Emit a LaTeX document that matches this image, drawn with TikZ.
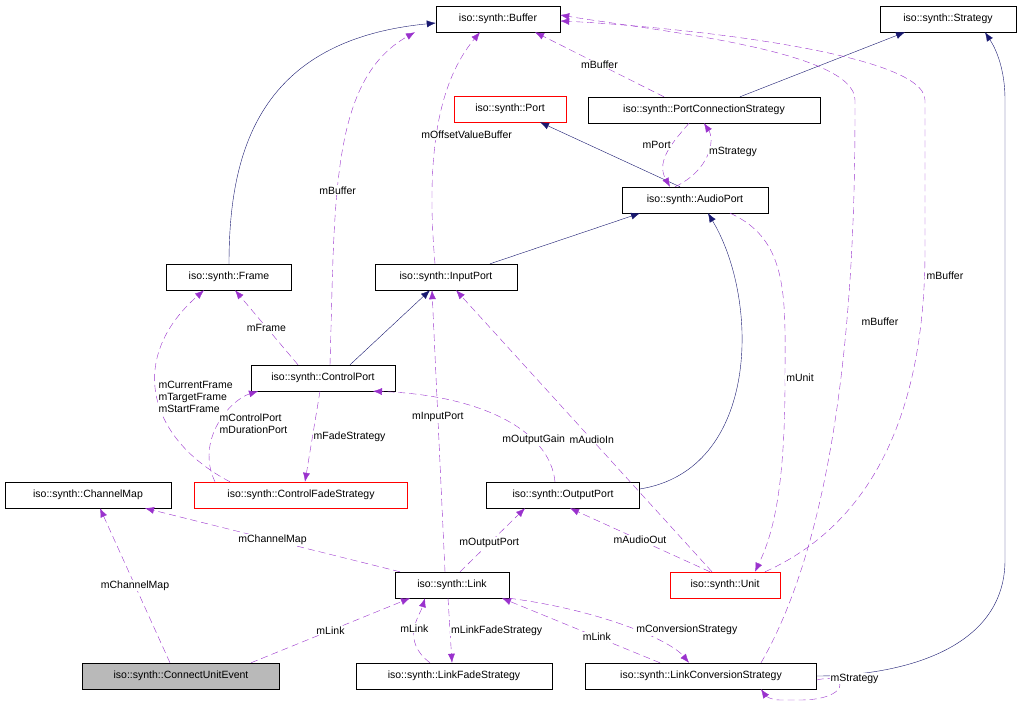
\documentclass[tikz,border=0pt]{standalone}
\usepackage{fontspec}
\setmainfont{Liberation Sans}
\usetikzlibrary{arrows.meta}
\definecolor{inhc}{HTML}{191970}
\definecolor{usec}{HTML}{9A32CD}
\tikzset{
  cls/.style={draw, fill=white, minimum height=26pt, minimum width=#1, inner sep=0pt, font=\fontsize{10.5}{12}\selectfont},
  red cls/.style={cls=#1, draw=red},
  ih/.style={draw=inhc, -{Latex[length=9pt,width=7pt]}},
  use/.style={draw=usec, dashed, dash pattern=on 7pt off 4pt, -{Latex[length=9pt,width=7pt]}},
  lbl/.style={font=\fontsize{10.5}{12}\selectfont, align=left, inner sep=1pt, fill=white},
}
\begin{document}
\begin{tikzpicture}[x=1pt, y={(0pt,-1pt)}]
    \useasboundingbox (0,0) rectangle (1028,704);
    % Nodes
    \node[cls=124pt] (buffer) at (498,19) {iso::synth::Buffer};
    \node[cls=136pt] (strategy) at (948,19) {iso::synth::Strategy};
    \node[red cls=112pt] (port) at (510,109) {iso::synth::Port};
    \node[cls=232pt] (pcs) at (704,110) {iso::synth::PortConnectionStrategy};
    \node[cls=146pt] (audioport) at (695,200) {iso::synth::AudioPort};
    \node[cls=125pt] (frame) at (229,277) {iso::synth::Frame};
    \node[cls=142pt] (inputport) at (446,277) {iso::synth::InputPort};
    \node[cls=144pt] (controlport) at (323,378) {iso::synth::ControlPort};
    \node[cls=166pt] (channelmap) at (88,495) {iso::synth::ChannelMap};
    \node[red cls=213pt] (cfs) at (301,495) {iso::synth::ControlFadeStrategy};
    \node[cls=153pt] (outputport) at (563,495) {iso::synth::OutputPort};
    \node[cls=114pt] (link) at (452,585) {iso::synth::Link};
    \node[red cls=110pt] (unit) at (725,585) {iso::synth::Unit};
    \node[cls=197pt, fill=gray!55] (cue) at (181,676) {iso::synth::ConnectUnitEvent};
    \node[cls=196pt] (lfs) at (454,676) {iso::synth::LinkFadeStrategy};
    \node[cls=231pt] (lcs) at (701,676) {iso::synth::LinkConversionStrategy};

    % Inheritance
    \draw[ih] (frame.north) .. controls (229,150) and (260,40) .. ([yshift=-4pt]buffer.west);
    \draw[ih] ([xshift=36pt]pcs.north) -- ([xshift=-43pt]strategy.south);
    \draw[ih] ([xshift=-15pt]audioport.north) -- ([xshift=30pt]port.south);
    \draw[ih] ([xshift=44pt]inputport.north) -- ([xshift=-55pt]audioport.south);
    \draw[ih] ([xshift=27pt]controlport.north) -- ([xshift=-16pt]inputport.south);
    \draw[ih] ([yshift=6pt]outputport.east) .. controls (760,470) and (760,300) .. ([xshift=13pt]audioport.south);
    \draw[ih] (lcs.east) .. controls (900,676) and (1005,650) .. (1005,560) -- (1005,100) .. controls (1005,60) and (990,40) .. ([xshift=37pt]strategy.south);

    % Usage
    \draw[use] ([xshift=7pt]controlport.north) .. controls (335,200) and (330,80) .. node[lbl, pos=0.4] {mBuffer} ([xshift=-83pt]buffer.south);
    \draw[use] ([xshift=-11pt]inputport.north) .. controls (425,150) and (440,80) .. node[lbl, pos=0.45, xshift=30pt] {mOffsetValueBuffer} ([xshift=-18pt]buffer.south);
    \draw[use] ([xshift=-40pt]pcs.north) -- node[lbl] {mBuffer} ([xshift=37pt]buffer.south);
    \draw[use] ([xshift=60pt]lcs.north) .. controls (855,500) and (855,200) .. (855,100) .. controls (855,50) and (650,30) .. ([yshift=4pt]buffer.east)
        node[lbl] at (880,322) {mBuffer};
    \draw[use] ([xshift=40pt]unit.north) .. controls (880,520) and (925,400) .. (925,250) -- (925,100) .. controls (925,50) and (650,25) .. ([yshift=-2pt]buffer.east)
        node[lbl] at (945,276) {mBuffer};
    \draw[use] ([xshift=-15pt]pcs.south) .. controls (675,140) and (655,160) .. node[lbl, pos=0.4, left] {mPort} ([xshift=-25pt]audioport.north);
    \draw[use] ([xshift=-20pt]audioport.north) .. controls (710,170) and (715,140) .. node[lbl, pos=0.55, right] {mStrategy} ([xshift=0pt]pcs.south);
    \draw[use] ([xshift=-25pt]controlport.north) -- node[lbl] {mFrame} ([xshift=6pt]frame.south);
    \draw[use] ([xshift=-71pt]cfs.north) .. controls (150,440) and (125,360) .. node[lbl, pos=0.5, right] {mCurrentFrame\\mTargetFrame\\mStartFrame} ([xshift=-25pt]frame.south);
    \draw[use] ([xshift=-86pt]cfs.north) .. controls (195,440) and (230,400) .. node[lbl, pos=0.5, right] {mControlPort\\mDurationPort} ([xshift=-65pt]controlport.south);
    \draw[use] ([xshift=-3pt]controlport.south) -- node[lbl, right] {mFadeStrategy} ([xshift=4pt]cfs.north);
    \draw[use] ([xshift=-7pt]link.north) -- node[lbl, pos=0.55] {mInputPort} ([xshift=-14pt]inputport.south);
    \draw[use] ([xshift=-8pt]outputport.north) .. controls (550,430) and (480,395) .. node[lbl, pos=0.3] {mOutputGain} ([xshift=50pt]controlport.south);
    \draw[use] ([xshift=-13pt]unit.north) -- node[lbl, pos=0.47] {mAudioIn} ([xshift=10pt]inputport.south);
    \draw[use] ([xshift=35pt]audioport.south) .. controls (790,240) and (785,300) .. (785,380) .. controls (785,500) and (770,540) .. ([xshift=30pt]unit.north)
        node[lbl] at (800,378) {mUnit};
    \draw[use] ([xshift=-52pt]link.north) -- node[lbl] {mChannelMap} ([xshift=57pt]channelmap.south);
    \draw[use] ([xshift=-11pt]cue.north) -- node[lbl] {mChannelMap} ([xshift=12pt]channelmap.south);
    \draw[use] ([xshift=70pt]cue.north) -- node[lbl] {mLink} ([xshift=-42pt]link.south);
    \draw[use] ([xshift=8pt]link.north) -- node[lbl, pos=0.45] {mOutputPort} ([xshift=-38pt]outputport.south);
    \draw[use] ([xshift=-15pt]unit.north) -- node[lbl] {mAudioOut} ([xshift=7pt]outputport.south);
    \draw[use] ([xshift=-24pt]lfs.north) .. controls (400,640) and (420,615) .. node[lbl, pos=0.5] {mLink} ([xshift=-27pt]link.south);
    \draw[use] ([xshift=-4pt]link.south) -- node[lbl, right, pos=0.5] {mLinkFadeStrategy} ([xshift=-2pt]lfs.north);
    \draw[use] ([xshift=-41pt]lcs.north) -- node[lbl, pos=0.4] {mLink} ([xshift=50pt]link.south);
    \draw[use] ([xshift=57pt]link.south) .. controls (600,610) and (670,640) .. node[lbl, pos=0.55, right] {mConversionStrategy} ([xshift=-12pt]lcs.north);
    \draw[use] ([yshift=-4pt]lcs.east) .. controls (850,672) and (850,700) .. node[lbl, pos=0.15, right] {mStrategy} (800,700) -- (780,700) .. controls (770,700) and (765,695) .. ([xshift=60pt]lcs.south);
\end{tikzpicture}
\end{document}
